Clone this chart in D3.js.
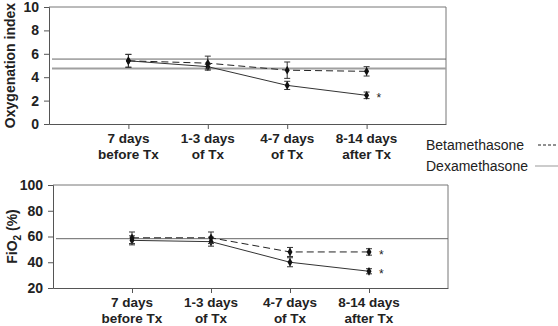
<!DOCTYPE html>
<html>
<head>
<meta charset="utf-8">
<script src="https://cdn.jsdelivr.net/npm/d3@7"></script>
<style>
  body { margin: 0; background: #fff; }
  svg { font-family: "Liberation Sans", Arial, sans-serif; }
</style>
</head>
<body>
<div id="chart"></div>
<script>
// categories (x axis), two lines each
const categories = ["7 days|before Tx", "1-3 days|of Tx", "4-7 days|of Tx", "8-14 days|after Tx"];

// oxygenation index panel
const oiBeta = [5.4, 5.2, 4.6, 4.5];
const oiBetaErr = [0.55, 0.6, 0.7, 0.4];
const oiDexa = [5.4, 4.9, 3.3, 2.45];
const oiDexaErr = [0.55, 0.2, 0.35, 0.28];
const oiRefLines = [5.55, 4.75];
const oiTicks = [0, 2, 4, 6, 8, 10];

// FiO2 panel
const fioBeta = [59, 59, 48, 48];
const fioBetaErr = [4.5, 4.5, 3.5, 2.5];
const fioDexa = [57, 56, 40, 33];
const fioDexaErr = [3.5, 3.5, 3.5, 2];
const fioRefLines = [58.3];
const fioTicks = [20, 40, 60, 80, 100];

const svg = d3.select("#chart").append("svg")
  .attr("width", 558)
  .attr("height", 326);

function drawPanel(p) {
  const x = d3.scalePoint()
    .domain(["_a"].concat(categories, ["_b"]))
    .range([p.left, p.right]);
  const y = d3.scaleLinear()
    .domain(p.domain)
    .range([p.bottom, p.top]);

  const g = svg.append("g");

  // box top + right
  g.append("path")
    .attr("d", `M${p.left},${p.top}H${p.right}V${p.bottom}`)
    .attr("fill", "none")
    .attr("stroke", "#777")
    .attr("stroke-width", 1);

  // reference lines
  p.refs.forEach((v, i) => {
    g.append("line")
      .attr("x1", p.left + 3).attr("x2", p.right)
      .attr("y1", y(v)).attr("y2", y(v))
      .attr("stroke", i == 0 ? "#666" : "#a0a0a0")
      .attr("stroke-width", i == 0 ? 1 : 2);
  });

  // axes
  const yAxis = g.append("g")
    .attr("transform", `translate(${p.left},0)`)
    .call(d3.axisLeft(y).tickValues(p.ticks).tickSize(5).tickPadding(5));
  yAxis.select(".domain").attr("stroke", "#555");
  yAxis.selectAll(".tick line").attr("stroke", "#555");
  yAxis.selectAll("text")
    .attr("font-size", 14).attr("font-weight", "bold").attr("fill", "#222");

  const xAxis = g.append("g")
    .attr("transform", `translate(0,${p.bottom})`)
    .call(d3.axisBottom(x).tickSize(5).tickSizeOuter(0).tickFormat(""));
  xAxis.select(".domain").attr("stroke", "#555");
  xAxis.selectAll(".tick line").attr("stroke", "#555");
  xAxis.selectAll(".tick").filter(d => d[0] == "_").remove();

  categories.forEach(c => {
    const parts = c.split("|");
    const t = g.append("text")
      .attr("x", x(c))
      .attr("y", p.bottom + 19)
      .attr("text-anchor", "middle")
      .attr("font-size", 13.5)
      .attr("font-weight", "bold")
      .attr("fill", "#222");
    t.append("tspan").attr("x", x(c)).text(parts[0]);
    t.append("tspan").attr("x", x(c)).attr("dy", 16).text(parts[1]);
  });

  // y title
  const title = g.append("text")
    .attr("transform", `translate(${p.titleX},${(p.top + p.bottom) / 2}) rotate(-90)`)
    .attr("text-anchor", "middle")
    .attr("font-size", 14)
    .attr("font-weight", "bold")
    .attr("fill", "#222");
  p.title.forEach(s => {
    const ts = title.append("tspan").text(s.t);
    if (s.sub) ts.attr("font-size", 10).attr("dy", 4);
    if (s.after) ts.attr("dy", -4);
  });

  // series
  const series = [
    { vals: p.dexa, err: p.dexaErr, dash: null, color: "#333" },
    { vals: p.beta, err: p.betaErr, dash: "7,4", color: "#222" }
  ];
  const line = d3.line().x((d, i) => x(categories[i])).y(d => y(d));

  series.forEach(s => {
    g.append("path")
      .datum(s.vals)
      .attr("d", line)
      .attr("fill", "none")
      .attr("stroke", s.color)
      .attr("stroke-width", 1)
      .attr("stroke-dasharray", s.dash);

    s.vals.forEach((v, i) => {
      const cx = x(categories[i]);
      const lo = y(v - s.err[i]), hi = y(v + s.err[i]);
      g.append("path")
        .attr("d", `M${cx},${lo}V${hi}M${cx - 3},${lo}H${cx + 3}M${cx - 3},${hi}H${cx + 3}`)
        .attr("stroke", "#333")
        .attr("stroke-width", 1)
        .attr("fill", "none");
      g.append("path")
        .attr("d", d3.symbol(d3.symbolDiamond, 22)())
        .attr("transform", `translate(${cx},${y(v)})`)
        .attr("fill", "#111");
    });
  });

  // significance stars
  p.stars.forEach(s => {
    g.append("text")
      .attr("x", x(categories[s.i]) + 10)
      .attr("y", y(s.v) + 7)
      .attr("font-size", 12)
      .attr("fill", "#222")
      .text("*");
  });
}

drawPanel({
  left: 49, right: 446, top: 7, bottom: 124,
  domain: [0, 10], ticks: oiTicks,
  beta: oiBeta, betaErr: oiBetaErr, dexa: oiDexa, dexaErr: oiDexaErr,
  refs: oiRefLines,
  title: [{ t: "Oxygenation index" }],
  titleX: 15,
  stars: [{ i: 3, v: oiDexa[3] }]
});

drawPanel({
  left: 53, right: 448, top: 185, bottom: 288,
  domain: [20, 100], ticks: fioTicks,
  beta: fioBeta, betaErr: fioBetaErr, dexa: fioDexa, dexaErr: fioDexaErr,
  refs: fioRefLines,
  title: [{ t: "FiO" }, { t: "2", sub: true }, { t: " (%)", after: true }],
  titleX: 17,
  stars: [{ i: 3, v: fioBeta[3] }, { i: 3, v: fioDexa[3] }]
});

// legend
const legendNames = ["Betamethasone", "Dexamethasone"];
legendNames.forEach((n, i) => {
  const ly = 145 + i * 21;
  svg.append("text")
    .attr("x", 426).attr("y", ly + 5)
    .attr("font-size", 14)
    .attr("fill", "#222")
    .text(n);
  svg.append("line")
    .attr("x1", i == 0 ? 538 : 535).attr("x2", i == 0 ? 556 : 558)
    .attr("y1", ly).attr("y2", ly)
    .attr("stroke", i == 0 ? "#222" : "#999")
    .attr("stroke-width", 1)
    .attr("stroke-dasharray", i == 0 ? "3,2" : null);
});
</script>
</body>
</html>
